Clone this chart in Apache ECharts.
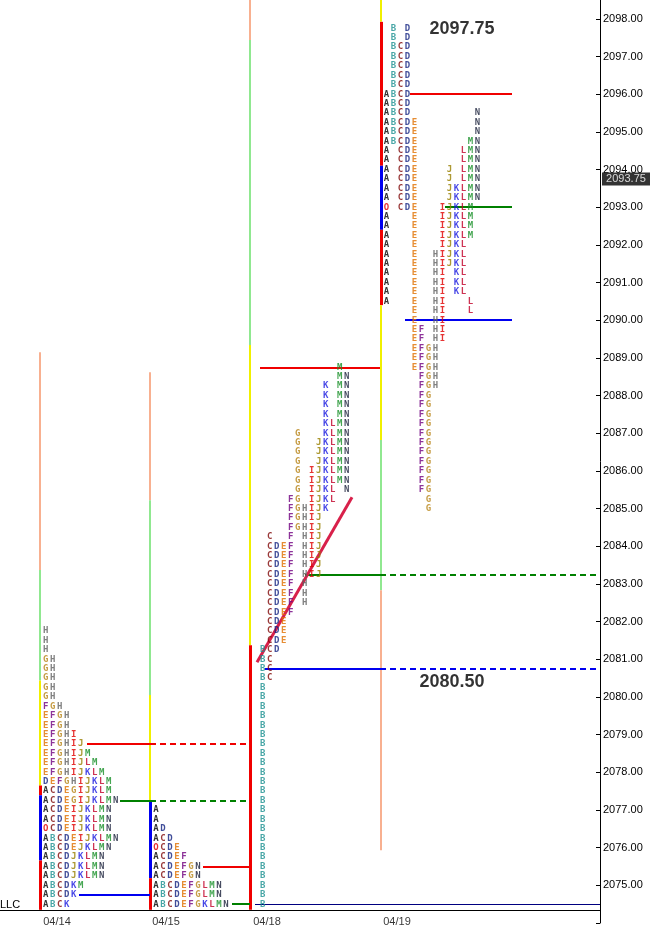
<!DOCTYPE html>
<html>
<head>
<meta charset="utf-8">
<script src="https://cdn.jsdelivr.net/npm/echarts@6/dist/echarts.min.js"></script>
<style>html,body{margin:0;padding:0;background:#fff}#chart{width:652px;height:933px}</style>
</head>
<body>
<div id="chart"></div>
<script>
// TPO profiles, one string per price row, top row first (tick 0.25)
var dates = ['04/14', '04/15', '04/18', '04/19'];
var dateLabelX = [57, 166, 267, 397];
var dayStart = [45.7, 156, 255.7, 386.5];   // centre of first letter column
var dayTop = [2081.75, 2077.00, 2088.75, 2097.75];

var prof0414 = ['H','H','H','GH','GH','GH','GH','GH','FGH','EFGH','EFGH','EFGHI','EFGHIJ','EFGHIJM',
    'EFGHIJLM','EFGHIJKLM','DEFGHIJKLM','ACDEGIJKLM','ACDEGIJKLMN','ACDEIJKLMN','ACDEIJKLMN',
    'OCDEIJKLMN','ABCDEIJKLMN','ABCDEJKLMN','ABCDJKLMN','ABCDJKLMN','ABCDJKLMN','ABCDKM','ABCDK','ABCK'];
var prof0415 = ['A','A','AD','ACD','OCDE','ACDEF','ACDEFGN','ACDEFGN','ABCDEFGLMN','ABCDEFGLMN','ABCDEFGKLMN'];
var prof0418 = ['            M','            MN','          K MN','          K MN','          K MN','          K MN',
    '          KLMN','      G   KLMN','      G  JKLMN','      G  JKLMN','      G  JKLMN','      G IJKLMN',
    '      G IJKLMN','      G IJKL N','     FG IJKL','     FGHIJK','     FGHIJ','     FGHIJ','  C  F HIJ',
    '  CDEF HIJ','  CDEF HIJ','  CDEF HIJ','  CDEF HIJ','  CDEF H','  CDEF H','  CDEF H','  CDEF',
    '  CDE','  CDE','  CDE',' BCD',' BC',' BC',' BC',
    ' B',' B',' B',' B',' B',' B',' B',' B',' B',' B',' B',' B',' B',' B',' B',' B',' B',' B',' B',' B',' B',' B',' B',' B'];
var prof0419 = [' B D',' B D',' BCD',' BCD',' BCD',' BCD',' BCD','ABCD','ABCD','ABCD         N','ABCDE        N',
    'ABCDE        N','ABCDE       MN','A CDE      LMN','A CDE      LMN','A CDE    J LMN','A CDE    J LMN',
    'A CDE    JKLMN','A CDE    JKLMN','O CDE   IJKLM','A   E   IJKLM','A   E   IJKLM','A   E   IJKLM',
    'A   E   IJKL','A   E  HIJKL','A   E  HIJKL','A   E  HI KL','A   E  HI KL','A   E  HI KL','A   E  HI   L',
    '    E  HI   L','    E  HI','    EF HI','    EF HI','    EFGH','    EFGH','    EFGH','     FGH','     FGH',
    '     FG','     FG','     FG','     FG','     FG','     FG','     FG','     FG','     FG','     FG','     FG',
    '      G','      G'];
var profiles = [prof0414, prof0415, prof0418, prof0419];

var letterColors = {
    A: '#000000', B: '#1a9090', C: '#800808', D: '#10207f', E: '#e07000', F: '#700080', G: '#b88418',
    H: '#606060', I: '#e00000', J: '#988000', K: '#1818e0', L: '#c00028', M: '#189028', N: '#181e38', O: '#e00000'
};

// volatility bars: [day, from, to, colour]
var volBars = [
    [0, 2089.15, 2083.37, '#f8b090'], [0, 2083.37, 2080.44, '#90e890'], [0, 2080.44, 2077.65, '#f0f000'],
    [0, 2077.65, 2077.39, '#f00000'], [0, 2077.39, 2075.66, '#0000f0'], [0, 2075.66, 2074.35, '#f00000'],
    [1, 2088.62, 2085.22, '#f8b090'], [1, 2085.22, 2080.05, '#90e890'], [1, 2080.05, 2077.26, '#f0f000'],
    [1, 2077.26, 2075.19, '#0000f0'], [1, 2075.19, 2074.35, '#f00000'],
    [2, 2098.50, 2097.44, '#f8b090'], [2, 2097.44, 2089.34, '#90e890'], [2, 2089.34, 2081.37, '#f0f000'],
    [2, 2081.37, 2074.35, '#f00000'],
    [3, 2098.50, 2097.92, '#f0f000'], [3, 2097.92, 2094.10, '#f00000'], [3, 2094.10, 2092.40, '#0000f0'],
    [3, 2092.40, 2090.40, '#f00000'], [3, 2090.40, 2086.82, '#f0f000'], [3, 2086.82, 2082.83, '#90e890'],
    [3, 2082.83, 2075.93, '#f8b090']
];
var volBarX = [40, 150, 250, 381];

// value area / POC lines: [price, x1, x2, colour, style]
var levelLines = [
    [2078.75, 87, 150, '#f00000', 'solid'], [2078.75, 150, 250, '#f00000', 'dashed'],
    [2077.25, 120, 150, '#008000', 'solid'], [2077.25, 150, 250, '#008000', 'dashed'],
    [2074.75, 79, 150, '#0000f0', 'solid'],
    [2075.50, 203, 250, '#f00000', 'solid'], [2074.50, 232, 250, '#008000', 'solid'],
    [2074.50, 255, 600, '#000080', 'thin'],
    [2088.75, 260, 380, '#f00000', 'solid'],
    [2083.25, 305, 380, '#008000', 'solid'], [2083.25, 380, 600, '#008000', 'dashed'],
    [2080.75, 265, 380, '#0000f0', 'solid'], [2080.75, 380, 600, '#0000f0', 'dashed'],
    [2096.00, 410, 512, '#f00000', 'solid'], [2093.00, 445, 512, '#008000', 'solid'],
    [2090.00, 405, 512, '#0000f0', 'solid']
];
var trendLine = [[257, 2080.92], [352, 2085.30]];
var bigLabels = [[462, 2097.72, '2097.75'], [452, 2080.40, '2080.50']];
var lastPrice = 2093.75;

var letters = [];
profiles.forEach(function (rows, d) {
    rows.forEach(function (row, r) {
        for (var k = 0; k < row.length; k++) {
            var ch = row[k];
            if (ch === ' ') continue;
            letters.push({
                value: [dayStart[d] + 7 * k, dayTop[d] - 0.25 * r],
                name: ch,
                label: { color: letterColors[ch] }
            });
        }
    });
});

var lineData = [];
volBars.forEach(function (b) {
    var thick = b[3] === '#f00000' || b[3] === '#0000f0';
    lineData.push({ coords: [[volBarX[b[0]], b[1]], [volBarX[b[0]], b[2]]],
        lineStyle: { color: b[3], width: thick ? 3 : 2, type: 'solid', opacity: 1 } });
});
levelLines.forEach(function (l) {
    lineData.push({ coords: [[l[1], l[0]], [l[2], l[0]]],
        lineStyle: { color: l[3], width: l[4] === 'thin' ? 1 : 2, type: l[4] === 'dashed' ? [6, 4] : 'solid', opacity: 1 } });
});
lineData.push({ coords: [[0, 2074.35], [600, 2074.35]], lineStyle: { color: '#000', width: 1, opacity: 1 } });
lineData.push({ coords: trendLine, lineStyle: { color: '#d8204a', width: 3, opacity: 1 } });

var hidden = { symbol: 'circle', symbolSize: 1, itemStyle: { color: 'rgba(0,0,0,0)' } };

var echart = echarts.init(document.getElementById('chart'));
var option = {
    animation: false,
    grid: { left: 0, right: 52, top: 0, bottom: 10 },
    xAxis: { type: 'value', min: 0, max: 600, show: false },
    yAxis: {
        type: 'value', position: 'right', min: 2074, max: 2098.5, interval: 1,
        splitLine: { show: false },
        axisLine: { show: true, onZero: false, lineStyle: { color: '#000' } },
        axisTick: { show: true, inside: true, length: 4, lineStyle: { color: '#000' } },
        axisLabel: {
            color: '#000', fontSize: 11, fontFamily: 'Liberation Sans', margin: 3,
            showMaxLabel: false,
            formatter: function (v) { return (v < 2074.5 || v > 2098.2) ? '' : v.toFixed(2); }
        }
    },
    series: [
        {
            type: 'lines', coordinateSystem: 'cartesian2d', silent: true, z: 2,
            data: lineData
        },
        Object.assign({
            type: 'scatter', silent: true, z: 3,
            data: letters,
            label: {
                show: true, position: 'inside', formatter: '{b}',
                fontFamily: 'DejaVu Sans Mono', fontSize: 9, fontWeight: 'bold'
            }
        }, hidden),
        Object.assign({
            type: 'scatter', silent: true, z: 4,
            data: bigLabels.map(function (b) { return { value: [b[0], b[1]], name: b[2] }; }),
            label: { show: true, position: 'inside', formatter: '{b}', color: '#000',
                fontFamily: 'Liberation Sans', fontSize: 18, fontWeight: 'bold' }
        }, hidden),
        Object.assign({
            type: 'scatter', silent: true, z: 4, clip: false,
            data: dates.map(function (d, i) { return { value: [dateLabelX[i], 2074.35], name: d }; }),
            label: { show: true, position: 'bottom', distance: 6, formatter: '{b}', color: '#000',
                fontFamily: 'Liberation Sans', fontSize: 11 }
        }, hidden),
        {
            type: 'scatter', silent: true, clip: false, z: 5,
            symbol: 'rect', symbolSize: [48, 13],
            itemStyle: { color: '#000' },
            data: [{ value: [626, lastPrice], name: lastPrice.toFixed(2) }],
            label: { show: true, position: 'inside', formatter: '{b}', color: '#fff',
                fontFamily: 'Liberation Sans', fontSize: 11 }
        }
    ],
    graphic: [{ type: 'text', left: 0, top: 899, style: { text: 'LLC', fill: '#000', font: '11px Liberation Sans' } }]
};
echart.setOption(option);
</script>
</body>
</html>
